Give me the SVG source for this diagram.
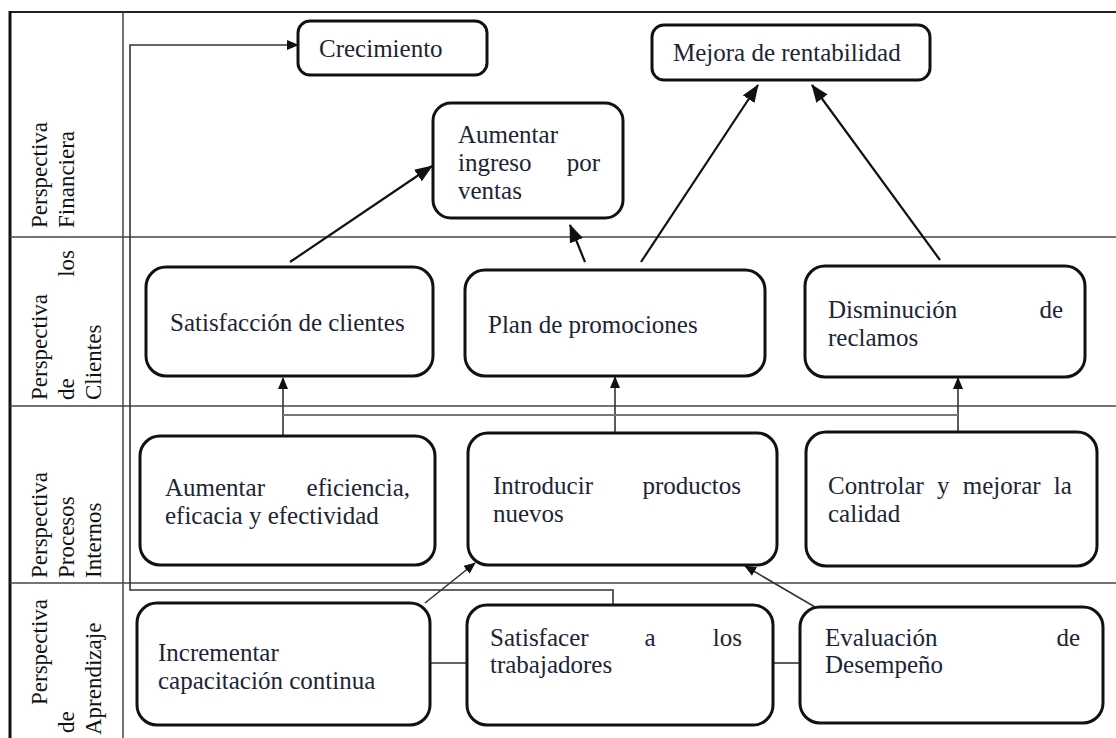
<svg xmlns="http://www.w3.org/2000/svg" width="1116" height="738" viewBox="0 0 1116 738">
<defs>
<style>
.box{fill:#fff;stroke:#111;stroke-width:3}
.t{font-size:25px;fill:#1c2435}
.lab{font-size:23px;fill:#111}
.grid{stroke:#444;stroke-width:1.5;fill:none}
.c{stroke:#111;stroke-width:2.2;fill:none}
.cs{stroke:#333;stroke-width:1.6;fill:none}
</style>
<marker id="ab" markerUnits="userSpaceOnUse" markerWidth="18" markerHeight="14" refX="17" refY="7" orient="auto"><path d="M0,0 L18,7 L0,14 z" fill="#111"/></marker>
<marker id="as" markerUnits="userSpaceOnUse" markerWidth="12" markerHeight="10" refX="11" refY="5" orient="auto"><path d="M0,0 L12,5 L0,10 z" fill="#111"/></marker>
</defs>
<rect width="1116" height="738" fill="#fff"/>
<g id="frame">
<line x1="10" y1="12" x2="1116" y2="12" stroke="#222" stroke-width="2.2"/>
<line x1="10" y1="11" x2="10" y2="738" stroke="#111" stroke-width="3"/>
<line x1="123" y1="12" x2="123" y2="738" class="grid"/>
<line x1="10" y1="237" x2="1116" y2="237" class="grid"/>
<line x1="10" y1="406" x2="1116" y2="406" class="grid"/>
<line x1="10" y1="583" x2="1116" y2="583" class="grid"/>
</g>
<g font-family="Liberation Serif, serif">
<g id="labels">
<text class="lab" transform="translate(47,228) rotate(-90)">Perspectiva</text>
<text class="lab" transform="translate(74,228) rotate(-90)">Financiera</text>
<text class="lab" transform="translate(47,400) rotate(-90)">Perspectiva</text>
<text class="lab" transform="translate(74,400) rotate(-90)">de</text>
<text class="lab" transform="translate(74,250) rotate(-90)" text-anchor="end">los</text>
<text class="lab" transform="translate(101,400) rotate(-90)">Clientes</text>
<text class="lab" transform="translate(47,578) rotate(-90)">Perspectiva</text>
<text class="lab" transform="translate(74,578) rotate(-90)">Procesos</text>
<text class="lab" transform="translate(101,578) rotate(-90)">Internos</text>
<text class="lab" transform="translate(47,705) rotate(-90)">Perspectiva</text>
<text class="lab" transform="translate(74,733) rotate(-90)">de</text>
<text class="lab" transform="translate(101,735) rotate(-90)">Aprendizaje</text>
</g>
<g id="connectors">
<line class="c" x1="290" y1="262" x2="432" y2="166" marker-end="url(#ab)"/>
<line class="c" x1="585" y1="262" x2="570" y2="225" marker-end="url(#ab)"/>
<line class="c" x1="641" y1="262" x2="758" y2="85" marker-end="url(#ab)"/>
<line class="c" x1="940" y1="260" x2="812" y2="85" marker-end="url(#ab)"/>
<line class="cs" x1="283" y1="437" x2="283" y2="378" marker-end="url(#as)"/>
<line class="cs" x1="615" y1="433" x2="615" y2="377" marker-end="url(#as)"/>
<line class="cs" x1="958" y1="432" x2="958" y2="378" marker-end="url(#as)"/>
<line x1="283" y1="415" x2="958" y2="415" stroke="#777" stroke-width="2.2"/>
<polyline class="cs" points="613,605 613,590 130,590 130,45 298,45" marker-end="url(#as)"/>
<line class="cs" x1="425" y1="603" x2="475" y2="563" marker-end="url(#as)"/>
<line class="cs" x1="815" y1="607" x2="745" y2="566" marker-end="url(#as)"/>
<line class="cs" x1="430" y1="663" x2="467" y2="663"/>
<line class="cs" x1="773" y1="663" x2="800" y2="663"/>
</g>
<g id="crecimiento">
<rect class="box" x="298" y="21" width="189" height="54" rx="12"/>
<text class="t" x="319" y="57">Crecimiento</text>
</g>
<g id="mejora">
<rect class="box" x="652" y="25" width="278" height="55" rx="12"/>
<text class="t" x="673" y="61">Mejora de rentabilidad</text>
</g>
<g id="ingreso">
<rect class="box" x="433" y="103" width="190" height="115" rx="18"/>
<text class="t" x="458" y="143">Aumentar</text>
<text class="t" x="600" y="171" text-anchor="end">por</text>
<text class="t" x="458" y="171">ingreso</text>
<text class="t" x="458" y="199">ventas</text>
</g>
<g id="satisfaccion">
<rect class="box" x="146" y="267" width="287" height="109" rx="20"/>
<text class="t" x="170" y="331">Satisfacción de clientes</text>
</g>
<g id="plan">
<rect class="box" x="465" y="270" width="300" height="106" rx="20"/>
<text class="t" x="488" y="333">Plan de promociones</text>
</g>
<g id="disminucion">
<rect class="box" x="805" y="266" width="280" height="111" rx="20"/>
<text class="t" x="828" y="318">Disminución</text>
<text class="t" x="1063" y="318" text-anchor="end">de</text>
<text class="t" x="828" y="346">reclamos</text>
</g>
<g id="eficiencia">
<rect class="box" x="140" y="436" width="295" height="129" rx="20"/>
<text class="t" x="165" y="496">Aumentar</text>
<text class="t" x="410" y="496" text-anchor="end">eficiencia,</text>
<text class="t" x="165" y="524">eficacia y efectividad</text>
</g>
<g id="introducir">
<rect class="box" x="468" y="433" width="309" height="132" rx="20"/>
<text class="t" x="493" y="494">Introducir</text>
<text class="t" x="741" y="494" text-anchor="end">productos</text>
<text class="t" x="493" y="522">nuevos</text>
</g>
<g id="controlar">
<rect class="box" x="806" y="432" width="291" height="134" rx="20"/>
<text class="t" x="828" y="494" word-spacing="7">Controlar y mejorar la</text>
<text class="t" x="828" y="522">calidad</text>
</g>
<g id="incrementar">
<rect class="box" x="137" y="603" width="293" height="122" rx="20"/>
<text class="t" x="158" y="661">Incrementar</text>
<text class="t" x="158" y="689">capacitación continua</text>
</g>
<g id="satisfacer">
<rect class="box" x="467" y="605" width="306" height="120" rx="20"/>
<text class="t" x="490" y="646">Satisfacer</text>
<text class="t" x="650" y="646" text-anchor="middle">a</text>
<text class="t" x="742" y="646" text-anchor="end">los</text>
<text class="t" x="490" y="673">trabajadores</text>
</g>
<g id="evaluacion">
<rect class="box" x="800" y="607" width="303" height="116" rx="20"/>
<text class="t" x="825" y="646">Evaluación</text>
<text class="t" x="1080" y="646" text-anchor="end">de</text>
<text class="t" x="825" y="673">Desempeño</text>
</g>
</g>
</svg>
